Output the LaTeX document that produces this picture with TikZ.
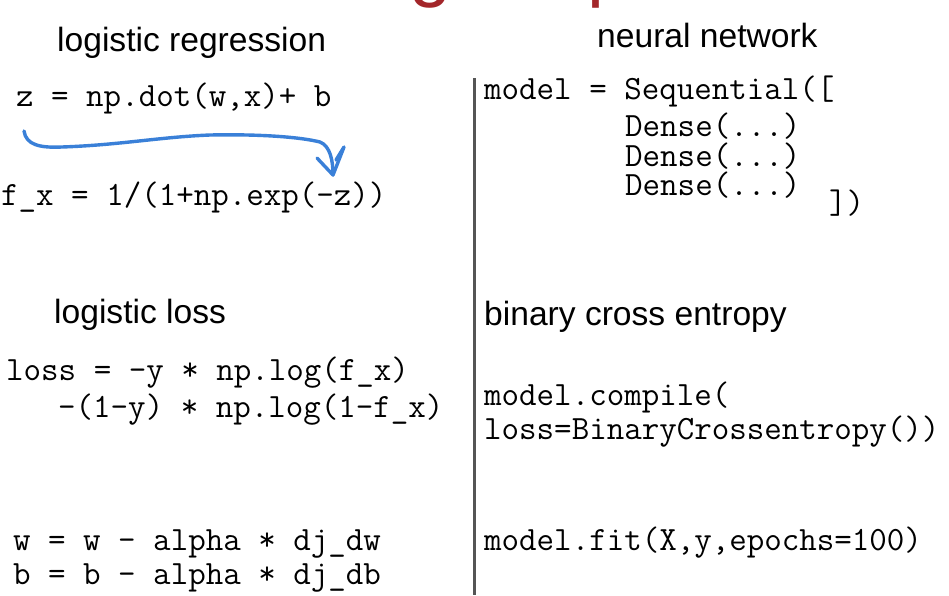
\documentclass[tikz,border=0pt]{standalone}
\usepackage{fontspec}
\newfontfamily\headfont{Liberation Sans}
\newcommand\codefont{\ttfamily\fontsize{34}{40}\selectfont}
\definecolor{titlered}{HTML}{A3262A}
\definecolor{penblue}{HTML}{3A80D8}
\definecolor{bargray}{HTML}{555555}
\frenchspacing
\begin{document}
\begin{tikzpicture}[x=1pt,y=-1pt,
  code/.style={font=\codefont, anchor=base west, inner sep=0pt, text=black},
  head/.style={font=\headfont\fontsize{33.6}{40}\selectfont, anchor=base west, inner sep=0pt, text=black},
  titletext/.style={font=\headfont\fontsize{76}{90}\selectfont, anchor=base west, inner sep=0pt, text=titlered},
  divider/.style={draw=bargray, line width=3pt},
  pen/.style={draw=penblue, line width=3.4pt, line cap=round, line join=round}]
\useasboundingbox (0,0) rectangle (949,595);
\clip (0,0) rectangle (949,595);
\fill[white] (0,0) rectangle (949,595);
% title (cut off at the top edge)
\node[titletext] (title) at (-48,-8) {Model Training Steps};
% headings
\node[head] (hlr) at (57,51) {logistic regression};
\node[head] (hnn) at (597,47) {neural network};
\node[head] (hll) at (54,323) {logistic loss};
\node[head] (hbce) at (484,325) {binary cross entropy};
% left column code
\node[code] (zline) at (16,106) {z = np.dot(w,x)+ b};
\node[code] (fline) at (1,205) {f\_x = 1/(1+np.exp(-z))};
\node[code] (loss1) at (6,380) {loss = -y * np.log(f\_x)};
\node[code] (loss2) at (58,417) {-(1-y) * np.log(1-f\_x)};
\node[code] (wline) at (13,550) {w = w - alpha * dj\_dw};
\node[code] (bline) at (13,584) {b = b - alpha * dj\_db};
% right column code
\node[code] (seq) at (484,99) {model = Sequential([};
\node[code] (d1) at (625,136) {Dense(...)};
\node[code] (d2) at (625,166) {Dense(...)};
\node[code] (d3) at (625,195) {Dense(...)};
\node[code] (close) at (829,213) {])};
\node[code] (comp1) at (484,405) {model.compile(};
\node[code] (comp2) at (484,439) {loss=BinaryCrossentropy())};
\node[code] (fit) at (484,550) {model.fit(X,y,epochs=100)};
% divider
\coordinate (barTop) at (474.5,78);
\coordinate (barBot) at (474.5,595);
\draw[divider] (barTop) -- (barBot);
% hand-drawn blue arrow
\coordinate (arrS) at (24,131);
\coordinate (arrE) at (333,175);
\draw[pen] (arrS) .. controls (26,145) and (40,148) .. (62,147)
  .. controls (120,145) and (160,137) .. (210,135)
  .. controls (260,134) and (300,137) .. (320,142)
  .. controls (330,146) and (333,160) .. (arrE);
\draw[pen] (317,158) -- (arrE) -- (344,147) -- (336,160);
\end{tikzpicture}
\end{document}
